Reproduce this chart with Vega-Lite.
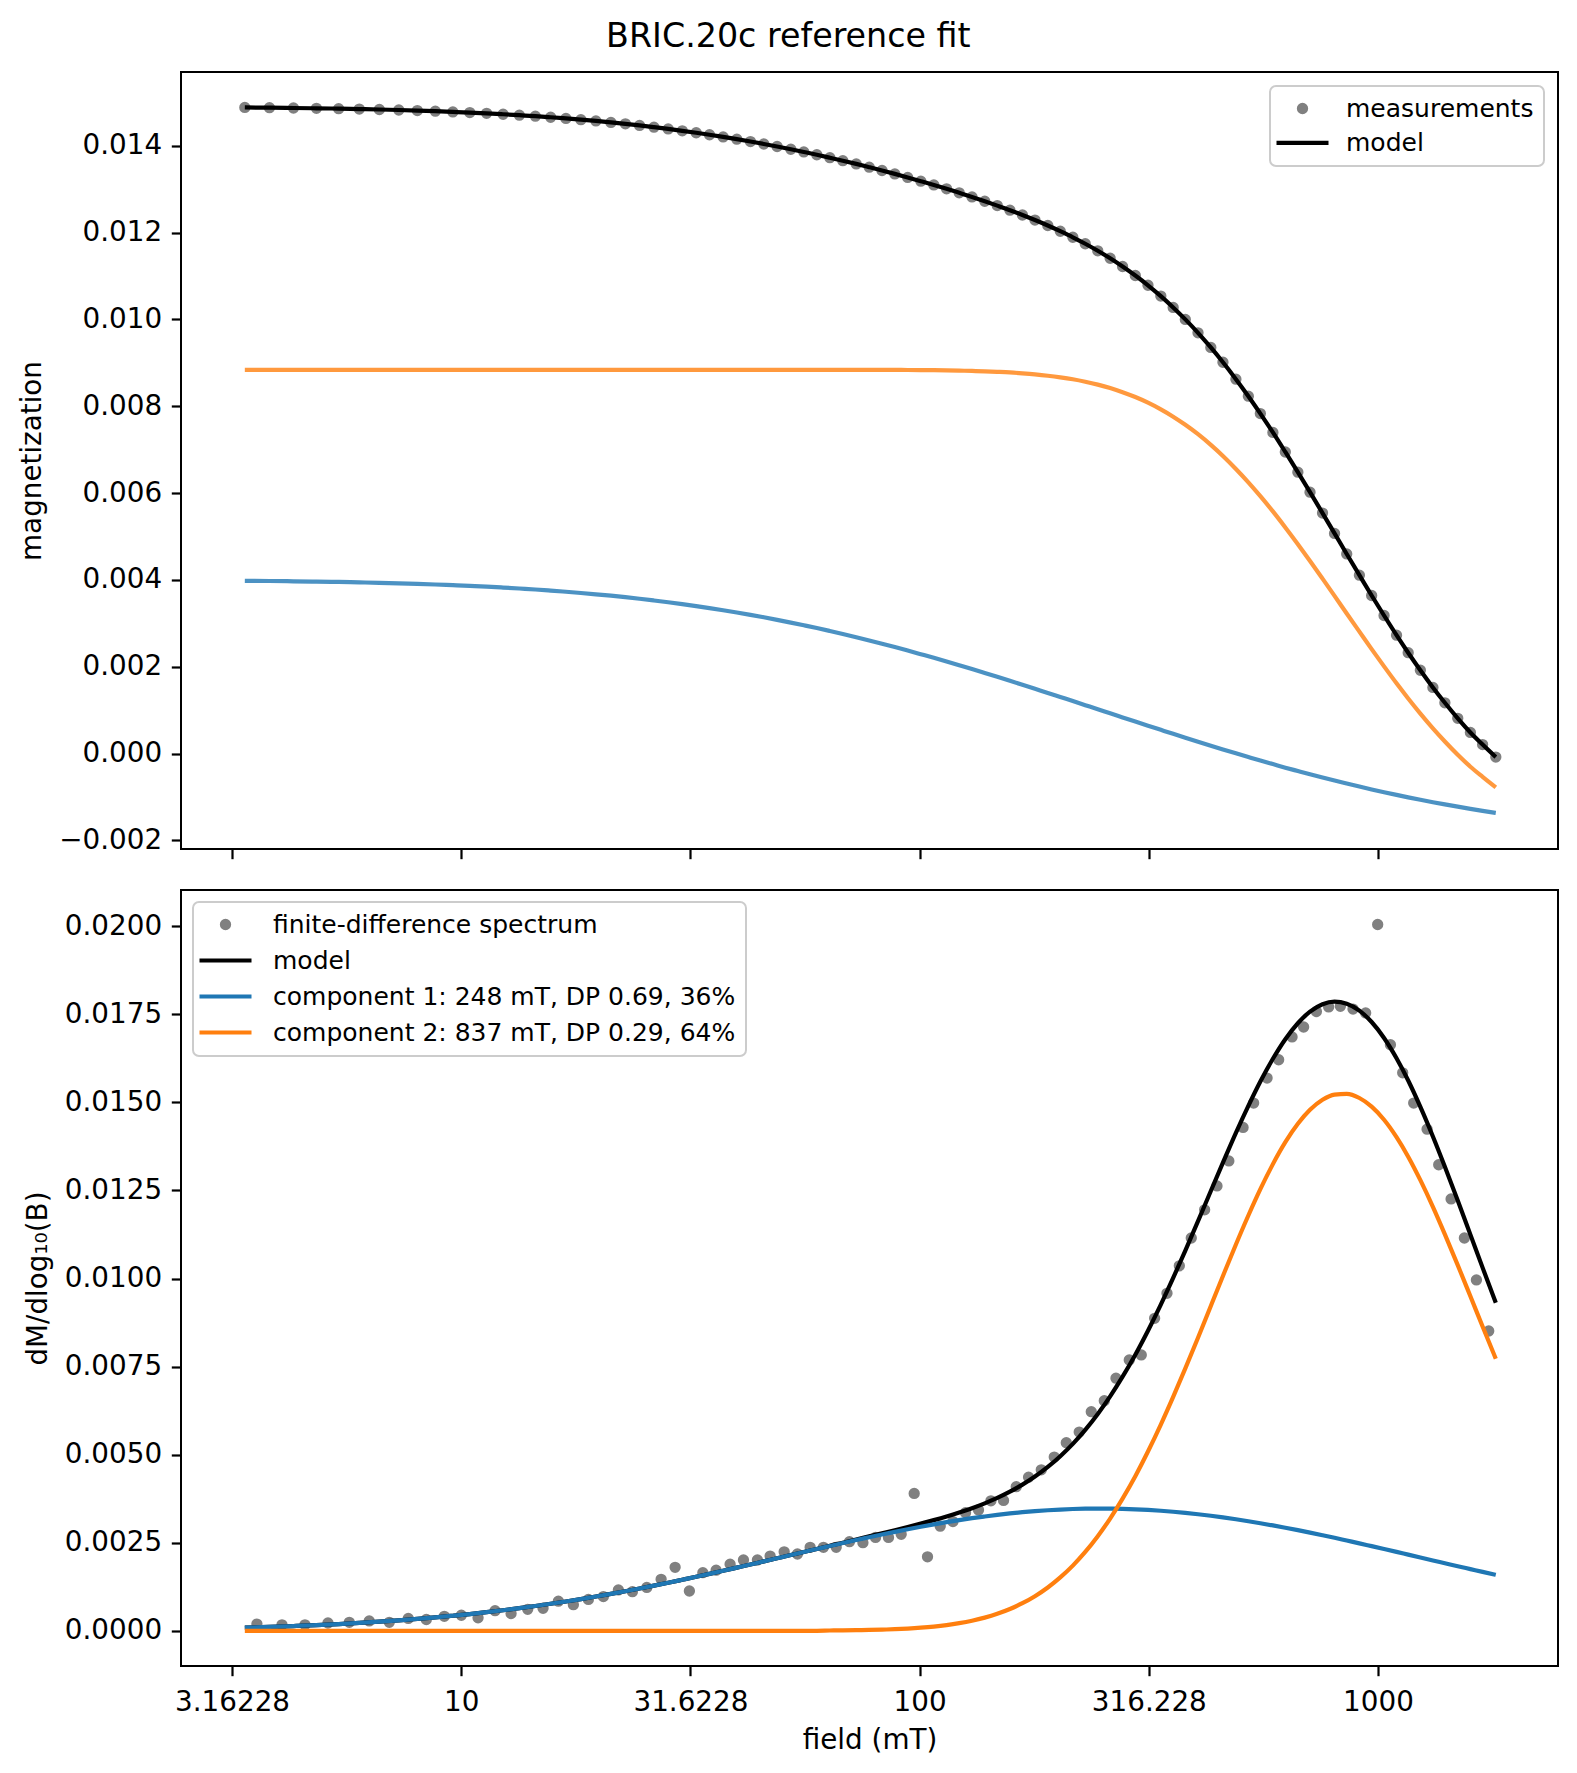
{
  "$schema": "https://vega.github.io/schema/vega-lite/v6.json",
  "autosize": {"type": "none"},
  "padding": {"left": 181, "top": 72, "right": 1396, "bottom": 1701},
  "background": "white",
  "title": {"text": "BRIC.20c reference fit", "font": "DejaVu Sans", "fontSize": 33.3, "fontWeight": "normal", "color": "#000000", "anchor": "middle", "frame": "bounds", "offset": -9, "baseline": "alphabetic"},
  "config": {
    "font": "DejaVu Sans",
    "view": {"stroke": "#000000", "strokeWidth": 2},
    "axis": {"labelFont": "DejaVu Sans", "labelFontSize": 27.8, "labelColor": "#000000", "titleFont": "DejaVu Sans", "titleFontSize": 27.8, "titleFontWeight": "normal", "titleColor": "#000000", "tickColor": "#000000", "tickWidth": 2.2, "tickSize": 9.7, "domain": false, "grid": false, "labelPadding": 9.7, "labelOverlap": false, "labelFlush": false},
    "axisX": {"labelPadding": 13, "titlePadding": 10},
    "axisY": {"titlePadding": 12},
    "legend": {"labelFont": "DejaVu Sans", "labelFontSize": 25, "labelColor": "#000000", "labelLimit": 1000, "symbolSize": 2704, "symbolType": "stroke", "symbolStrokeWidth": 4.2, "symbolOpacity": 1, "symbolOffset": 10, "labelOffset": 33, "padding": 10, "strokeColor": "#cccccc", "fillColor": "rgba(255,255,255,0.8)", "cornerRadius": 6, "offset": 14}
  },
  "datasets": {
    "grid": [
      {"field": 3.372, "model_M": 0.014883, "comp1_M": 0.003979, "comp2_M": 0.00884, "model_dM": 0.0000894, "comp1_dM": 0.0000894, "comp2_dM": 0},
      {"field": 3.816, "model_M": 0.014878, "comp1_M": 0.003974, "comp2_M": 0.00884, "model_dM": 0.00011, "comp1_dM": 0.00011, "comp2_dM": 0},
      {"field": 4.305, "model_M": 0.014871, "comp1_M": 0.003967, "comp2_M": 0.00884, "model_dM": 0.000134, "comp1_dM": 0.000134, "comp2_dM": 0},
      {"field": 4.832, "model_M": 0.014864, "comp1_M": 0.00396, "comp2_M": 0.00884, "model_dM": 0.000161, "comp1_dM": 0.000161, "comp2_dM": 0},
      {"field": 5.402, "model_M": 0.014856, "comp1_M": 0.003952, "comp2_M": 0.00884, "model_dM": 0.000191, "comp1_dM": 0.000191, "comp2_dM": 0},
      {"field": 5.992, "model_M": 0.014846, "comp1_M": 0.003942, "comp2_M": 0.00884, "model_dM": 0.000223, "comp1_dM": 0.000223, "comp2_dM": 0},
      {"field": 6.627, "model_M": 0.014836, "comp1_M": 0.003932, "comp2_M": 0.00884, "model_dM": 0.000258, "comp1_dM": 0.000258, "comp2_dM": 0},
      {"field": 7.308, "model_M": 0.014824, "comp1_M": 0.00392, "comp2_M": 0.00884, "model_dM": 0.000296, "comp1_dM": 0.000296, "comp2_dM": 0},
      {"field": 8.021, "model_M": 0.014811, "comp1_M": 0.003907, "comp2_M": 0.00884, "model_dM": 0.000337, "comp1_dM": 0.000337, "comp2_dM": 0},
      {"field": 8.779, "model_M": 0.014797, "comp1_M": 0.003893, "comp2_M": 0.00884, "model_dM": 0.00038, "comp1_dM": 0.00038, "comp2_dM": 0},
      {"field": 9.587, "model_M": 0.014781, "comp1_M": 0.003877, "comp2_M": 0.00884, "model_dM": 0.000427, "comp1_dM": 0.000427, "comp2_dM": 0},
      {"field": 10.44, "model_M": 0.014765, "comp1_M": 0.003861, "comp2_M": 0.00884, "model_dM": 0.000475, "comp1_dM": 0.000475, "comp2_dM": 0},
      {"field": 11.36, "model_M": 0.014747, "comp1_M": 0.003843, "comp2_M": 0.00884, "model_dM": 0.000528, "comp1_dM": 0.000528, "comp2_dM": 0},
      {"field": 12.34, "model_M": 0.014727, "comp1_M": 0.003823, "comp2_M": 0.00884, "model_dM": 0.000583, "comp1_dM": 0.000583, "comp2_dM": 0},
      {"field": 13.39, "model_M": 0.014705, "comp1_M": 0.003801, "comp2_M": 0.00884, "model_dM": 0.000642, "comp1_dM": 0.000642, "comp2_dM": 0},
      {"field": 14.51, "model_M": 0.014682, "comp1_M": 0.003778, "comp2_M": 0.00884, "model_dM": 0.000704, "comp1_dM": 0.000704, "comp2_dM": 0},
      {"field": 15.67, "model_M": 0.014657, "comp1_M": 0.003753, "comp2_M": 0.00884, "model_dM": 0.000766, "comp1_dM": 0.000766, "comp2_dM": 0},
      {"field": 16.92, "model_M": 0.01463, "comp1_M": 0.003726, "comp2_M": 0.00884, "model_dM": 0.000832, "comp1_dM": 0.000832, "comp2_dM": 0},
      {"field": 18.24, "model_M": 0.014602, "comp1_M": 0.003698, "comp2_M": 0.00884, "model_dM": 0.0009, "comp1_dM": 0.0009, "comp2_dM": 0},
      {"field": 19.67, "model_M": 0.014572, "comp1_M": 0.003668, "comp2_M": 0.00884, "model_dM": 0.000972, "comp1_dM": 0.000972, "comp2_dM": 0},
      {"field": 21.21, "model_M": 0.014539, "comp1_M": 0.003635, "comp2_M": 0.00884, "model_dM": 0.001047, "comp1_dM": 0.001047, "comp2_dM": 0},
      {"field": 22.81, "model_M": 0.014505, "comp1_M": 0.003601, "comp2_M": 0.00884, "model_dM": 0.001123, "comp1_dM": 0.001123, "comp2_dM": 0},
      {"field": 24.49, "model_M": 0.014469, "comp1_M": 0.003565, "comp2_M": 0.00884, "model_dM": 0.0012, "comp1_dM": 0.0012, "comp2_dM": 0},
      {"field": 26.33, "model_M": 0.014429, "comp1_M": 0.003525, "comp2_M": 0.00884, "model_dM": 0.001281, "comp1_dM": 0.001281, "comp2_dM": 0},
      {"field": 28.28, "model_M": 0.014388, "comp1_M": 0.003484, "comp2_M": 0.00884, "model_dM": 0.001363, "comp1_dM": 0.001363, "comp2_dM": 0},
      {"field": 30.35, "model_M": 0.014345, "comp1_M": 0.003441, "comp2_M": 0.00884, "model_dM": 0.001448, "comp1_dM": 0.001448, "comp2_dM": 0},
      {"field": 32.55, "model_M": 0.0143, "comp1_M": 0.003396, "comp2_M": 0.00884, "model_dM": 0.001533, "comp1_dM": 0.001533, "comp2_dM": 0},
      {"field": 34.8, "model_M": 0.014254, "comp1_M": 0.00335, "comp2_M": 0.00884, "model_dM": 0.001616, "comp1_dM": 0.001616, "comp2_dM": 0},
      {"field": 37.27, "model_M": 0.014205, "comp1_M": 0.003301, "comp2_M": 0.00884, "model_dM": 0.001703, "comp1_dM": 0.001703, "comp2_dM": 0},
      {"field": 39.92, "model_M": 0.014153, "comp1_M": 0.003249, "comp2_M": 0.00884, "model_dM": 0.001792, "comp1_dM": 0.001792, "comp2_dM": 0},
      {"field": 42.75, "model_M": 0.014098, "comp1_M": 0.003194, "comp2_M": 0.00884, "model_dM": 0.001881, "comp1_dM": 0.001881, "comp2_dM": 0},
      {"field": 45.72, "model_M": 0.014042, "comp1_M": 0.003138, "comp2_M": 0.00884, "model_dM": 0.00197, "comp1_dM": 0.00197, "comp2_dM": 0},
      {"field": 48.88, "model_M": 0.013983, "comp1_M": 0.003079, "comp2_M": 0.00884, "model_dM": 0.002058, "comp1_dM": 0.002058, "comp2_dM": 0},
      {"field": 52.36, "model_M": 0.01392, "comp1_M": 0.003016, "comp2_M": 0.00884, "model_dM": 0.002149, "comp1_dM": 0.002149, "comp2_dM": 0},
      {"field": 55.89, "model_M": 0.013858, "comp1_M": 0.002954, "comp2_M": 0.00884, "model_dM": 0.002236, "comp1_dM": 0.002236, "comp2_dM": 0},
      {"field": 59.67, "model_M": 0.013794, "comp1_M": 0.00289, "comp2_M": 0.00884, "model_dM": 0.002321, "comp1_dM": 0.002321, "comp2_dM": 0},
      {"field": 63.71, "model_M": 0.013726, "comp1_M": 0.002822, "comp2_M": 0.008839, "model_dM": 0.002415, "comp1_dM": 0.002407, "comp2_dM": 0.0000075},
      {"field": 67.99, "model_M": 0.013657, "comp1_M": 0.002753, "comp2_M": 0.008839, "model_dM": 0.002501, "comp1_dM": 0.00249, "comp2_dM": 0.000011},
      {"field": 72.73, "model_M": 0.013583, "comp1_M": 0.002679, "comp2_M": 0.008839, "model_dM": 0.002592, "comp1_dM": 0.002576, "comp2_dM": 0.000016},
      {"field": 77.63, "model_M": 0.013507, "comp1_M": 0.002605, "comp2_M": 0.008838, "model_dM": 0.002679, "comp1_dM": 0.002656, "comp2_dM": 0.000023},
      {"field": 82.79, "model_M": 0.013431, "comp1_M": 0.00253, "comp2_M": 0.008837, "model_dM": 0.002767, "comp1_dM": 0.002734, "comp2_dM": 0.0000326},
      {"field": 88.29, "model_M": 0.013353, "comp1_M": 0.002453, "comp2_M": 0.008836, "model_dM": 0.002855, "comp1_dM": 0.002809, "comp2_dM": 0.0000457},
      {"field": 94.19, "model_M": 0.013271, "comp1_M": 0.002372, "comp2_M": 0.008835, "model_dM": 0.002945, "comp1_dM": 0.002882, "comp2_dM": 0.0000634},
      {"field": 100.6, "model_M": 0.013185, "comp1_M": 0.002288, "comp2_M": 0.008833, "model_dM": 0.003041, "comp1_dM": 0.002953, "comp2_dM": 0.0000879},
      {"field": 107.4, "model_M": 0.013098, "comp1_M": 0.002204, "comp2_M": 0.00883, "model_dM": 0.003141, "comp1_dM": 0.003021, "comp2_dM": 0.00012},
      {"field": 114.5, "model_M": 0.013009, "comp1_M": 0.002119, "comp2_M": 0.008826, "model_dM": 0.003245, "comp1_dM": 0.003083, "comp2_dM": 0.000162},
      {"field": 122.0, "model_M": 0.012917, "comp1_M": 0.002033, "comp2_M": 0.00882, "model_dM": 0.003357, "comp1_dM": 0.003141, "comp2_dM": 0.000216},
      {"field": 130.1, "model_M": 0.012822, "comp1_M": 0.001945, "comp2_M": 0.008813, "model_dM": 0.003481, "comp1_dM": 0.003196, "comp2_dM": 0.000285},
      {"field": 138.7, "model_M": 0.012723, "comp1_M": 0.001855, "comp2_M": 0.008804, "model_dM": 0.003618, "comp1_dM": 0.003245, "comp2_dM": 0.000373},
      {"field": 147.7, "model_M": 0.012622, "comp1_M": 0.001766, "comp2_M": 0.008792, "model_dM": 0.003771, "comp1_dM": 0.00329, "comp2_dM": 0.000481},
      {"field": 157.4, "model_M": 0.012517, "comp1_M": 0.001675, "comp2_M": 0.008778, "model_dM": 0.003948, "comp1_dM": 0.003331, "comp2_dM": 0.000617},
      {"field": 167.6, "model_M": 0.012406, "comp1_M": 0.001584, "comp2_M": 0.008758, "model_dM": 0.004148, "comp1_dM": 0.003366, "comp2_dM": 0.000782},
      {"field": 178.5, "model_M": 0.012289, "comp1_M": 0.001491, "comp2_M": 0.008734, "model_dM": 0.004377, "comp1_dM": 0.003396, "comp2_dM": 0.000981},
      {"field": 190.4, "model_M": 0.012163, "comp1_M": 0.001396, "comp2_M": 0.008703, "model_dM": 0.00465, "comp1_dM": 0.003422, "comp2_dM": 0.001228},
      {"field": 202.7, "model_M": 0.012032, "comp1_M": 0.001302, "comp2_M": 0.008666, "model_dM": 0.004956, "comp1_dM": 0.003442, "comp2_dM": 0.001514},
      {"field": 215.9, "model_M": 0.011893, "comp1_M": 0.001208, "comp2_M": 0.008621, "model_dM": 0.005306, "comp1_dM": 0.003457, "comp2_dM": 0.001849},
      {"field": 229.8, "model_M": 0.011743, "comp1_M": 0.001114, "comp2_M": 0.008565, "model_dM": 0.005703, "comp1_dM": 0.003466, "comp2_dM": 0.002237},
      {"field": 244.7, "model_M": 0.011581, "comp1_M": 0.001019, "comp2_M": 0.008498, "model_dM": 0.006155, "comp1_dM": 0.00347, "comp2_dM": 0.002685},
      {"field": 260.4, "model_M": 0.011409, "comp1_M": 0.000926, "comp2_M": 0.008419, "model_dM": 0.006654, "comp1_dM": 0.003468, "comp2_dM": 0.003186},
      {"field": 277.2, "model_M": 0.01122, "comp1_M": 0.000832, "comp2_M": 0.008324, "model_dM": 0.007213, "comp1_dM": 0.003461, "comp2_dM": 0.003752},
      {"field": 295.5, "model_M": 0.011012, "comp1_M": 0.000736, "comp2_M": 0.008212, "model_dM": 0.007837, "comp1_dM": 0.003449, "comp2_dM": 0.004388},
      {"field": 314.9, "model_M": 0.010787, "comp1_M": 0.000641, "comp2_M": 0.008082, "model_dM": 0.008519, "comp1_dM": 0.003431, "comp2_dM": 0.005088},
      {"field": 335.9, "model_M": 0.010537, "comp1_M": 0.000545, "comp2_M": 0.007928, "model_dM": 0.00926, "comp1_dM": 0.003407, "comp2_dM": 0.005853},
      {"field": 357.4, "model_M": 0.010277, "comp1_M": 0.000453, "comp2_M": 0.00776, "model_dM": 0.010017, "comp1_dM": 0.003379, "comp2_dM": 0.006638},
      {"field": 379.9, "model_M": 0.010001, "comp1_M": 0.000364, "comp2_M": 0.007573, "model_dM": 0.010795, "comp1_dM": 0.003347, "comp2_dM": 0.007448},
      {"field": 404.9, "model_M": 0.009692, "comp1_M": 0.000272, "comp2_M": 0.007356, "model_dM": 0.011628, "comp1_dM": 0.003309, "comp2_dM": 0.008319},
      {"field": 431.8, "model_M": 0.009354, "comp1_M": 0.00018, "comp2_M": 0.00711, "model_dM": 0.012486, "comp1_dM": 0.003265, "comp2_dM": 0.009221},
      {"field": 458.9, "model_M": 0.009013, "comp1_M": 0.000094, "comp2_M": 0.006855, "model_dM": 0.013289, "comp1_dM": 0.003219, "comp2_dM": 0.01007},
      {"field": 489.8, "model_M": 0.008624, "comp1_M": 0.000004, "comp2_M": 0.006556, "model_dM": 0.014134, "comp1_dM": 0.003166, "comp2_dM": 0.010968},
      {"field": 521.4, "model_M": 0.008231, "comp1_M": -0.000081, "comp2_M": 0.006248, "model_dM": 0.0149, "comp1_dM": 0.00311, "comp2_dM": 0.01179},
      {"field": 553.8, "model_M": 0.007831, "comp1_M": -0.000162, "comp2_M": 0.005929, "model_dM": 0.015592, "comp1_dM": 0.003054, "comp2_dM": 0.012538},
      {"field": 589.8, "model_M": 0.007397, "comp1_M": -0.000244, "comp2_M": 0.005577, "model_dM": 0.016239, "comp1_dM": 0.002991, "comp2_dM": 0.013248},
      {"field": 627.8, "model_M": 0.006946, "comp1_M": -0.000326, "comp2_M": 0.005208, "model_dM": 0.016795, "comp1_dM": 0.002925, "comp2_dM": 0.01387},
      {"field": 668.6, "model_M": 0.006482, "comp1_M": -0.000404, "comp2_M": 0.004822, "model_dM": 0.017248, "comp1_dM": 0.002856, "comp2_dM": 0.014392},
      {"field": 710.7, "model_M": 0.006021, "comp1_M": -0.000479, "comp2_M": 0.004436, "model_dM": 0.017575, "comp1_dM": 0.002786, "comp2_dM": 0.014789},
      {"field": 756.8, "model_M": 0.005538, "comp1_M": -0.000554, "comp2_M": 0.004028, "model_dM": 0.017786, "comp1_dM": 0.002712, "comp2_dM": 0.015074},
      {"field": 803.9, "model_M": 0.005071, "comp1_M": -0.000624, "comp2_M": 0.003631, "model_dM": 0.01786, "comp1_dM": 0.002639, "comp2_dM": 0.015221},
      {"field": 854.6, "model_M": 0.004597, "comp1_M": -0.000692, "comp2_M": 0.003225, "model_dM": 0.017804, "comp1_dM": 0.002562, "comp2_dM": 0.015242},
      {"field": 910.8, "model_M": 0.004109, "comp1_M": -0.000762, "comp2_M": 0.002807, "model_dM": 0.017607, "comp1_dM": 0.002482, "comp2_dM": 0.015125},
      {"field": 968.6, "model_M": 0.00364, "comp1_M": -0.000828, "comp2_M": 0.002404, "model_dM": 0.017282, "comp1_dM": 0.002402, "comp2_dM": 0.01488},
      {"field": 1030.9, "model_M": 0.003179, "comp1_M": -0.000892, "comp2_M": 0.002007, "model_dM": 0.016829, "comp1_dM": 0.002321, "comp2_dM": 0.014508},
      {"field": 1097.6, "model_M": 0.002727, "comp1_M": -0.000954, "comp2_M": 0.001617, "model_dM": 0.016253, "comp1_dM": 0.002239, "comp2_dM": 0.014014},
      {"field": 1163.8, "model_M": 0.002322, "comp1_M": -0.00101, "comp2_M": 0.001268, "model_dM": 0.015621, "comp1_dM": 0.002161, "comp2_dM": 0.01346},
      {"field": 1237.2, "model_M": 0.001918, "comp1_M": -0.001066, "comp2_M": 0.00092, "model_dM": 0.014873, "comp1_dM": 0.00208, "comp2_dM": 0.012793},
      {"field": 1317.6, "model_M": 0.001522, "comp1_M": -0.001122, "comp2_M": 0.00058, "model_dM": 0.014033, "comp1_dM": 0.001997, "comp2_dM": 0.012036},
      {"field": 1399.3, "model_M": 0.001168, "comp1_M": -0.001173, "comp2_M": 0.000277, "model_dM": 0.013173, "comp1_dM": 0.001918, "comp2_dM": 0.011255},
      {"field": 1492.7, "model_M": 0.00081, "comp1_M": -0.001225, "comp2_M": -0.000029, "model_dM": 0.012214, "comp1_dM": 0.001833, "comp2_dM": 0.010381},
      {"field": 1590.7, "model_M": 0.000485, "comp1_M": -0.001275, "comp2_M": -0.000304, "model_dM": 0.011246, "comp1_dM": 0.001751, "comp2_dM": 0.009495},
      {"field": 1691.2, "model_M": 0.000206, "comp1_M": -0.001321, "comp2_M": -0.000537, "model_dM": 0.010309, "comp1_dM": 0.001672, "comp2_dM": 0.008637},
      {"field": 1807.2, "model_M": -0.000083, "comp1_M": -0.001368, "comp2_M": -0.000779, "model_dM": 0.00931, "comp1_dM": 0.001589, "comp2_dM": 0.007721}
    ],
    "spectrum": [
      {"field": 3.583, "dM": 0.00019}, {"field": 4.064, "dM": 0.00017}, {"field": 4.561, "dM": 0.00017}, {"field": 5.12, "dM": 0.00022},
      {"field": 5.699, "dM": 0.00024}, {"field": 6.299, "dM": 0.00028}, {"field": 6.967, "dM": 0.00024}, {"field": 7.664, "dM": 0.00035},
      {"field": 8.391, "dM": 0.00032}, {"field": 9.185, "dM": 0.00041}, {"field": 10.005, "dM": 0.00044}, {"field": 10.881, "dM": 0.00037},
      {"field": 11.852, "dM": 0.00057}, {"field": 12.844, "dM": 0.00049}, {"field": 13.964, "dM": 0.00061}, {"field": 15.082, "dM": 0.00064},
      {"field": 16.289, "dM": 0.00084}, {"field": 17.564, "dM": 0.00074}, {"field": 18.94, "dM": 0.00089}, {"field": 20.422, "dM": 0.00097},
      {"field": 22.021, "dM": 0.00116}, {"field": 23.626, "dM": 0.00111}, {"field": 25.398, "dM": 0.00123}, {"field": 27.294, "dM": 0.00146},
      {"field": 29.282, "dM": 0.0018}, {"field": 31.457, "dM": 0.00113}, {"field": 33.658, "dM": 0.00165}, {"field": 35.983, "dM": 0.00172},
      {"field": 38.597, "dM": 0.00189}, {"field": 41.276, "dM": 0.00201}, {"field": 44.271, "dM": 0.00201}, {"field": 47.194, "dM": 0.00212},
      {"field": 50.641, "dM": 0.00224}, {"field": 54.134, "dM": 0.00218}, {"field": 57.703, "dM": 0.00237}, {"field": 61.694, "dM": 0.00237},
      {"field": 65.766, "dM": 0.00237}, {"field": 70.293, "dM": 0.00253}, {"field": 75.212, "dM": 0.0025}, {"field": 80.132, "dM": 0.00265},
      {"field": 85.521, "dM": 0.00265}, {"field": 91.159, "dM": 0.00274}, {"field": 97.309, "dM": 0.0039}, {"field": 104.04, "dM": 0.0021},
      {"field": 110.9, "dM": 0.00297}, {"field": 118.22, "dM": 0.0031}, {"field": 125.95, "dM": 0.00335}, {"field": 134.42, "dM": 0.00343},
      {"field": 143.08, "dM": 0.00369}, {"field": 152.43, "dM": 0.0037}, {"field": 162.48, "dM": 0.00409}, {"field": 172.85, "dM": 0.00436},
      {"field": 184.25, "dM": 0.00457}, {"field": 196.67, "dM": 0.00493}, {"field": 208.93, "dM": 0.00534}, {"field": 222.95, "dM": 0.00564},
      {"field": 236.86, "dM": 0.00622}, {"field": 252.87, "dM": 0.00653}, {"field": 268.15, "dM": 0.00717}, {"field": 286.68, "dM": 0.00769},
      {"field": 304.49, "dM": 0.00783}, {"field": 325.61, "dM": 0.00887}, {"field": 346.46, "dM": 0.00958}, {"field": 368.63, "dM": 0.01036},
      {"field": 391.41, "dM": 0.01115}, {"field": 418.6, "dM": 0.01195}, {"field": 445.36, "dM": 0.01263}, {"field": 472.69, "dM": 0.01334},
      {"field": 507.7, "dM": 0.01429}, {"field": 535.4, "dM": 0.01498}, {"field": 572.79, "dM": 0.01569}, {"field": 607.11, "dM": 0.01621},
      {"field": 649.38, "dM": 0.01686}, {"field": 688.27, "dM": 0.01714}, {"field": 733.83, "dM": 0.01758}, {"field": 780.44, "dM": 0.01771},
      {"field": 827.75, "dM": 0.01773}, {"field": 882.11, "dM": 0.01765}, {"field": 939.91, "dM": 0.01754}, {"field": 998.4, "dM": 0.02005},
      {"field": 1064.4, "dM": 0.01664}, {"field": 1132.1, "dM": 0.01584}, {"field": 1196.4, "dM": 0.01498}, {"field": 1279.6, "dM": 0.01424},
      {"field": 1356.6, "dM": 0.01323}, {"field": 1443.7, "dM": 0.01226}, {"field": 1543.3, "dM": 0.01115}, {"field": 1639.5, "dM": 0.00996},
      {"field": 1744.0, "dM": 0.00851}
    ]
  },
  "spacing": 41,
  "bounds": "flush",
  "resolve": {"scale": {"color": "independent", "x": "independent", "y": "independent"}, "legend": {"color": "independent"}},
  "vconcat": [
    {
      "width": 1377,
      "height": 777,
      "data": {"name": "grid"},
      "encoding": {
        "x": {"field": "field", "type": "quantitative", "scale": {"type": "log", "domain": [2.447, 2470], "nice": false}, "axis": {"values": [3.16228, 10, 31.6228, 100, 316.228, 1000], "labels": false, "title": null}}
      },
      "layer": [
        {
          "mark": {"type": "circle", "size": 128, "opacity": 1},
          "encoding": {
            "y": {"field": "model_M", "type": "quantitative", "scale": {"domain": [-0.0022, 0.0157], "nice": false, "zero": false}, "axis": {"values": [-0.002, 0, 0.002, 0.004, 0.006, 0.008, 0.01, 0.012, 0.014], "format": ".3f", "title": "magnetization"}},
            "color": {"datum": "measurements", "type": "nominal",
              "scale": {"domain": ["measurements", "model", "component 1", "component 2"], "range": ["#808080", "#000000", "#1f77b4", "#ff7f0e"]},
              "legend": {"values": ["measurements", "model"], "orient": "top-right", "title": null, "rowPadding": 8.4, "labelOffset": 31,
                "encode": {
                  "symbols": {"update": {
                    "shape": {"signal": "datum.value === 'measurements' ? 'circle' : 'stroke'"},
                    "size": {"signal": "datum.value === 'measurements' ? 128 : 2704"},
                    "fill": {"signal": "datum.value === 'measurements' ? '#808080' : 'transparent'"},
                    "stroke": {"signal": "datum.value === 'measurements' ? 'transparent' : '#000000'"},
                    "strokeWidth": {"signal": "datum.value === 'measurements' ? 0 : 4.2"},
                    "opacity": {"value": 1}
                  }},
                  "legend": {"update": {"strokeWidth": {"value": 2}}}
                }
              }
            }
          }
        },
        {
          "mark": {"type": "line", "strokeWidth": 4.2, "interpolate": "monotone"},
          "encoding": {"y": {"field": "model_M", "type": "quantitative"}, "color": {"datum": "model", "type": "nominal"}}
        },
        {
          "mark": {"type": "line", "strokeWidth": 4.2, "opacity": 0.8, "interpolate": "monotone"},
          "encoding": {"y": {"field": "comp1_M", "type": "quantitative"}, "color": {"datum": "component 1", "type": "nominal"}}
        },
        {
          "mark": {"type": "line", "strokeWidth": 4.2, "opacity": 0.8, "interpolate": "monotone"},
          "encoding": {"y": {"field": "comp2_M", "type": "quantitative"}, "color": {"datum": "component 2", "type": "nominal"}}
        }
      ]
    },
    {
      "width": 1377,
      "height": 776,
      "encoding": {
        "x": {"field": "field", "type": "quantitative", "scale": {"type": "log", "domain": [2.447, 2470], "nice": false}, "axis": {"values": [3.16228, 10, 31.6228, 100, 316.228, 1000], "format": ".6~g", "title": "field (mT)"}}
      },
      "layer": [
        {
          "data": {"name": "spectrum"},
          "mark": {"type": "circle", "size": 128, "opacity": 1},
          "encoding": {
            "y": {"field": "dM", "type": "quantitative", "scale": {"domain": [-0.001, 0.02103], "nice": false, "zero": false}, "axis": {"values": [0, 0.0025, 0.005, 0.0075, 0.01, 0.0125, 0.015, 0.0175, 0.02], "format": ".4f", "title": "dM/dlog₁₀(B)"}},
            "color": {"datum": "finite-difference spectrum", "type": "nominal",
              "scale": {"domain": ["finite-difference spectrum", "model", "component 1: 248 mT, DP 0.69, 36%", "component 2: 837 mT, DP 0.29, 64%"], "range": ["#808080", "#000000", "#1f77b4", "#ff7f0e"]},
              "legend": {"orient": "top-left", "title": null, "rowPadding": 10, "labelOffset": 35, "offset": 12,
                "encode": {
                  "symbols": {"update": {
                    "shape": {"signal": "datum.value === 'finite-difference spectrum' ? 'circle' : 'stroke'"},
                    "size": {"signal": "datum.value === 'finite-difference spectrum' ? 128 : 2704"},
                    "fill": {"signal": "datum.value === 'finite-difference spectrum' ? '#808080' : 'transparent'"},
                    "stroke": {"signal": "datum.value === 'finite-difference spectrum' ? 'transparent' : (datum.value === 'model' ? '#000000' : (indexOf(datum.value, 'component 1') === 0 ? '#1f77b4' : '#ff7f0e'))"},
                    "strokeWidth": {"signal": "datum.value === 'finite-difference spectrum' ? 0 : 4.2"},
                    "opacity": {"value": 1}
                  }},
                  "legend": {"update": {"strokeWidth": {"value": 2}}}
                }
              }
            }
          }
        },
        {
          "data": {"name": "grid"},
          "mark": {"type": "line", "strokeWidth": 4.2, "interpolate": "monotone"},
          "encoding": {"y": {"field": "model_dM", "type": "quantitative"}, "color": {"datum": "model", "type": "nominal"}}
        },
        {
          "data": {"name": "grid"},
          "mark": {"type": "line", "strokeWidth": 4.2, "interpolate": "monotone"},
          "encoding": {"y": {"field": "comp1_dM", "type": "quantitative"}, "color": {"datum": "component 1: 248 mT, DP 0.69, 36%", "type": "nominal"}}
        },
        {
          "data": {"name": "grid"},
          "mark": {"type": "line", "strokeWidth": 4.2, "interpolate": "monotone"},
          "encoding": {"y": {"field": "comp2_dM", "type": "quantitative"}, "color": {"datum": "component 2: 837 mT, DP 0.29, 64%", "type": "nominal"}}
        }
      ]
    }
  ]
}
